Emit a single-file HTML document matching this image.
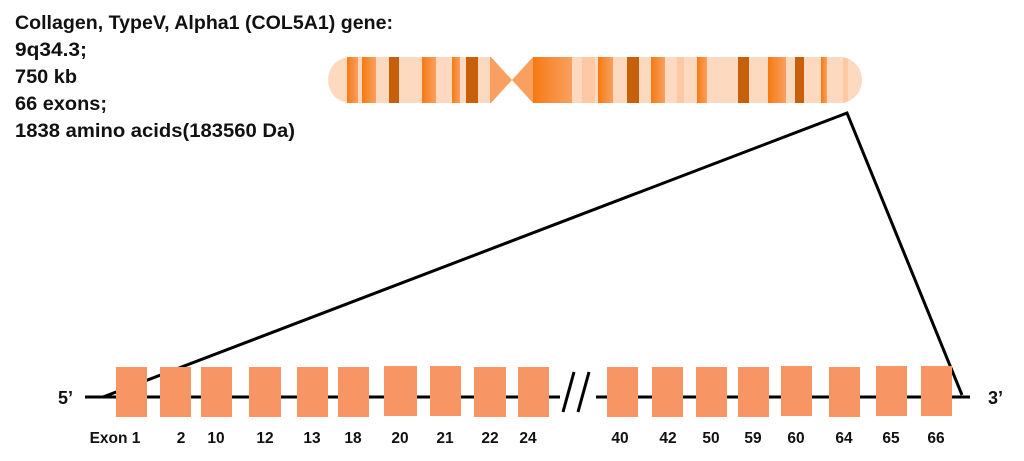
<!DOCTYPE html>
<html><head><meta charset="utf-8"><style>
html,body{margin:0;padding:0;background:#fff;}
svg{display:block;}
text{font-family:"Liberation Sans",sans-serif;font-weight:bold;fill:#111;}
</style></head><body>
<svg width="1024" height="461" viewBox="0 0 1024 461" xmlns="http://www.w3.org/2000/svg">
<defs>
<linearGradient id="og" x1="0" x2="1" y1="0" y2="0"><stop offset="0" stop-color="#f57a12"/><stop offset="1" stop-color="#f9a060"/></linearGradient>
<clipPath id="chr"><path d="M350,57 H491 L512,80 L533,57 H840 A22,23 0 0 1 840,103 H533 L512,80 L491,103 H350 A22,23 0 0 1 350,57 Z"/></clipPath>
</defs>
<text x="15" y="29" font-size="19" textLength="378" lengthAdjust="spacingAndGlyphs">Collagen, TypeV, Alpha1 (COL5A1) gene:</text>
<text x="15" y="56" font-size="19" textLength="72" lengthAdjust="spacingAndGlyphs">9q34.3;</text>
<text x="15" y="83" font-size="19" textLength="62" lengthAdjust="spacingAndGlyphs">750 kb</text>
<text x="15" y="110" font-size="19" textLength="92" lengthAdjust="spacingAndGlyphs">66 exons;</text>
<text x="15" y="137" font-size="19" textLength="280" lengthAdjust="spacingAndGlyphs">1838 amino acids(183560 Da)</text>
<g clip-path="url(#chr)">
<rect x="320" y="50" width="560" height="60" fill="#fdd9bf"/>
<rect x="347" y="50" width="11" height="60" fill="url(#og)"/>
<rect x="362" y="50" width="14" height="60" fill="url(#og)"/>
<rect x="389" y="50" width="10" height="60" fill="#c85f0a"/>
<rect x="422" y="50" width="14" height="60" fill="url(#og)"/>
<rect x="452" y="50" width="8" height="60" fill="url(#og)"/>
<rect x="466" y="50" width="12" height="60" fill="#c85f0a"/>
<rect x="490" y="50" width="43" height="60" fill="#f9a060"/>
<rect x="533" y="50" width="39" height="60" fill="url(#og)"/>
<rect x="582" y="50" width="13" height="60" fill="#fcc9a4"/>
<rect x="598" y="50" width="15" height="60" fill="url(#og)"/>
<rect x="627" y="50" width="12" height="60" fill="#c85f0a"/>
<rect x="651" y="50" width="14" height="60" fill="url(#og)"/>
<rect x="677" y="50" width="7" height="60" fill="#fcc9a4"/>
<rect x="697" y="50" width="10" height="60" fill="url(#og)"/>
<rect x="738" y="50" width="11" height="60" fill="#c85f0a"/>
<rect x="768" y="50" width="18" height="60" fill="url(#og)"/>
<rect x="795" y="50" width="9" height="60" fill="#c85f0a"/>
<rect x="821" y="50" width="6" height="60" fill="url(#og)"/>
<rect x="843" y="50" width="5" height="60" fill="#fcc9a4"/>
</g>
<polyline points="103,397 847,113 962,395" fill="none" stroke="#000" stroke-width="3"/>
<line x1="85" y1="397" x2="970" y2="397" stroke="#000" stroke-width="3"/>
<g fill="#f79664">
<rect x="116" y="367" width="31" height="50"/>
<rect x="160" y="367" width="31" height="50"/>
<rect x="201" y="367" width="31" height="50"/>
<rect x="249" y="367" width="32" height="50"/>
<rect x="297" y="367" width="31" height="50"/>
<rect x="338" y="367" width="31" height="50"/>
<rect x="384" y="366" width="33" height="50"/>
<rect x="430" y="366" width="31" height="50"/>
<rect x="474" y="367" width="32" height="50"/>
<rect x="518" y="367" width="31" height="50"/>
<rect x="607" y="367" width="31" height="50"/>
<rect x="652" y="367" width="31" height="50"/>
<rect x="696" y="367" width="31" height="50"/>
<rect x="738" y="367" width="31" height="50"/>
<rect x="781" y="366" width="31" height="50"/>
<rect x="829" y="367" width="31" height="50"/>
<rect x="876" y="366" width="31" height="50"/>
<rect x="921" y="366" width="31" height="50"/>
</g>
<rect x="560" y="390" width="36" height="14" fill="#fff"/>
<line x1="563" y1="412" x2="574" y2="372" stroke="#000" stroke-width="3"/>
<line x1="578" y1="412" x2="589" y2="372" stroke="#000" stroke-width="3"/>
<text x="58" y="404" font-size="18">5’</text>
<text x="988" y="404" font-size="18">3’</text>
<g font-size="15.5" text-anchor="middle">
<text x="115" y="443">Exon 1</text>
<text x="181" y="443">2</text>
<text x="216" y="443">10</text>
<text x="265" y="443">12</text>
<text x="312" y="443">13</text>
<text x="353" y="443">18</text>
<text x="400" y="443">20</text>
<text x="445" y="443">21</text>
<text x="490" y="443">22</text>
<text x="528" y="443">24</text>
<text x="620" y="443">40</text>
<text x="668" y="443">42</text>
<text x="711" y="443">50</text>
<text x="753" y="443">59</text>
<text x="796" y="443">60</text>
<text x="844" y="443">64</text>
<text x="891" y="443">65</text>
<text x="936" y="443">66</text>
</g>
</svg>
</body></html>
